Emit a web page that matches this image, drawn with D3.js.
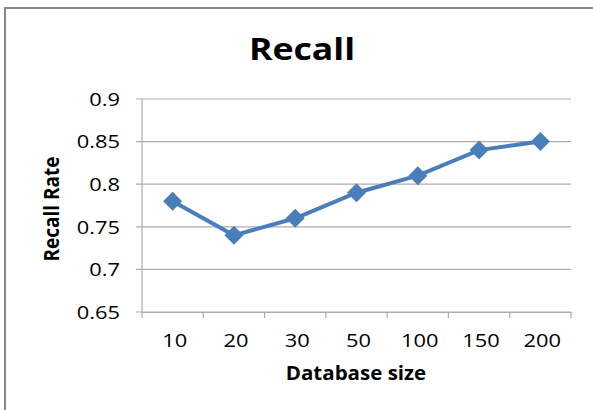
<!DOCTYPE html>
<html>
<head>
<meta charset="utf-8">
<script src="https://cdn.jsdelivr.net/npm/d3@7"></script>
<style>
  body { margin: 0; background: #fff; }
  svg text { font-family: "Open Sans", "DejaVu Sans", sans-serif; fill: #000; }
</style>
</head>
<body>
<div id="chart"></div>
<script>
const categories = ["10", "20", "30", "50", "100", "150", "200"];
const recallValues = [0.78, 0.74, 0.76, 0.79, 0.81, 0.84, 0.85];
const yTicks = [0.65, 0.7, 0.75, 0.8, 0.85, 0.9];

const width = 593, height = 410;
const margin = { top: 99, right: 22, bottom: 98, left: 142 };
const stretch = 1.15; // text in the source looks a bit wide

const svg = d3.select("#chart").append("svg")
  .attr("width", width)
  .attr("height", height);

// chart frame (only left/top visible in crop)
svg.append("path")
  .attr("d", `M5,${height} L5,8 L${width},8`)
  .attr("fill", "none")
  .attr("stroke", "#878787")
  .attr("stroke-width", 2);

const x = d3.scaleBand()
  .domain(categories)
  .range([margin.left, width - margin.right]);

const y = d3.scaleLinear()
  .domain([0.65, 0.9])
  .range([height - margin.bottom, margin.top]);

// gridlines
svg.append("g")
  .selectAll("line")
  .data(yTicks)
  .join("line")
  .attr("x1", margin.left - 6)
  .attr("x2", width - margin.right)
  .attr("y1", d => y(d))
  .attr("y2", d => y(d))
  .attr("stroke", "#acacac")
  .attr("stroke-width", 1.2);

// y axis line
svg.append("line")
  .attr("x1", margin.left).attr("x2", margin.left)
  .attr("y1", margin.top).attr("y2", height - margin.bottom)
  .attr("stroke", "#acacac")
  .attr("stroke-width", 1.2);

// y tick labels
svg.append("g")
  .selectAll("text")
  .data(yTicks)
  .join("text")
  .attr("transform", d => `translate(${margin.left - 22},${y(d)}) scale(${stretch},1)`)
  .attr("dy", "0.36em")
  .attr("text-anchor", "end")
  .style("font-size", "19px")
  .text(d => +d.toFixed(2));

// x axis
const xAxis = svg.append("g")
  .attr("transform", `translate(0,${height - margin.bottom})`)
  .call(d3.axisBottom(x).tickSize(0).tickPadding(20));
xAxis.select(".domain").attr("stroke", "#acacac").attr("stroke-width", 1.2);
xAxis.selectAll("text")
  .attr("y", 0).attr("dy", 0)
  .attr("transform", `translate(2,35) scale(${stretch},1)`)
  .style("font-size", "19px")
  .style("font-family", "'Open Sans', sans-serif")
  .attr("fill", "#000");

// category boundary ticks
const bounds = categories.map(c => x(c)).concat([x(categories[categories.length - 1]) + x.bandwidth()]);
svg.append("g")
  .selectAll("line")
  .data(bounds)
  .join("line")
  .attr("x1", d => d).attr("x2", d => d)
  .attr("y1", height - margin.bottom)
  .attr("y2", height - margin.bottom + 6)
  .attr("stroke", "#acacac")
  .attr("stroke-width", 1.2);

// line
const pts = categories.map((c, i) => [x(c) + x.bandwidth() / 2, y(recallValues[i])]);
svg.append("path")
  .datum(pts)
  .attr("fill", "none")
  .attr("stroke", "#4a7ebb")
  .attr("stroke-width", 4)
  .attr("d", d3.line());

// diamond markers
svg.append("g")
  .selectAll("path")
  .data(pts)
  .join("path")
  .attr("transform", d => `translate(${d[0]},${d[1]})`)
  .attr("d", "M0,-9.5 L9.5,0 L0,9.5 L-9.5,0 Z")
  .attr("fill", "#4a7ebb");

// title
svg.append("text")
  .attr("transform", `translate(302,60) scale(${stretch},1)`)
  .attr("text-anchor", "middle")
  .style("font-size", "31px")
  .style("font-weight", "bold")
  .text("Recall");

// axis titles
svg.append("text")
  .attr("transform", `translate(356,380) scale(1.08,1)`)
  .attr("text-anchor", "middle")
  .style("font-size", "19px")
  .style("font-weight", "bold")
  .text("Database size");

svg.append("text")
  .attr("transform", "translate(59,209) rotate(-90) scale(1,1.1)")
  .attr("text-anchor", "middle")
  .style("font-size", "19px")
  .style("font-weight", "bold")
  .text("Recall Rate");
</script>
</body>
</html>
